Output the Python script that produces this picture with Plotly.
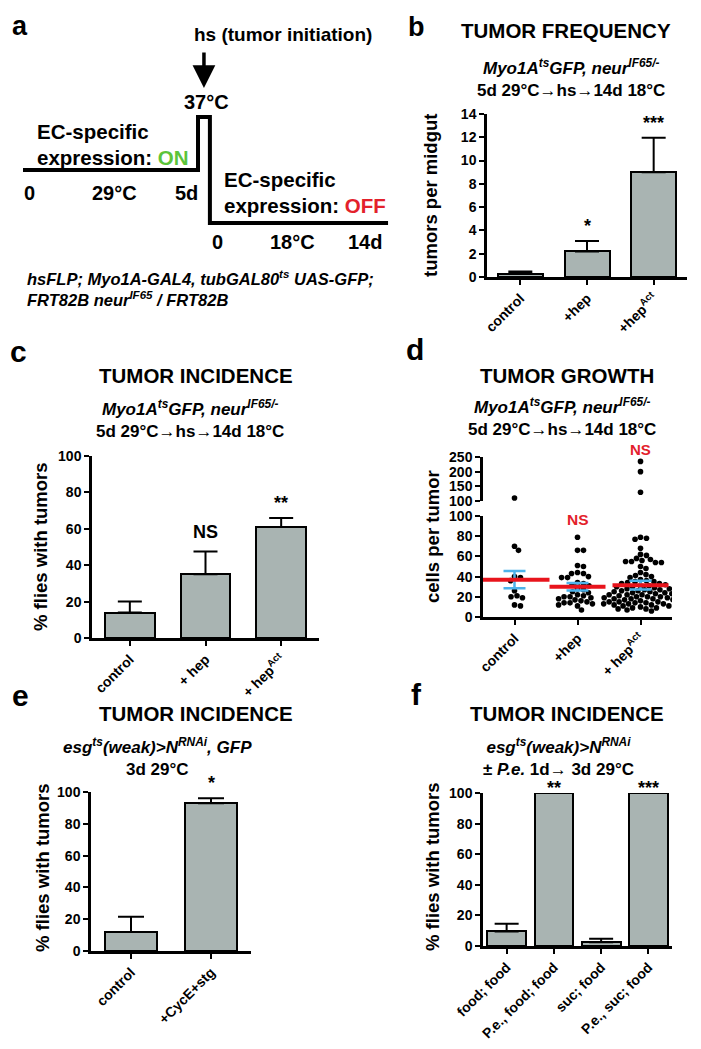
import plotly.graph_objects as go

W, H = 701, 1049
PAGE_OFFSET = 8  # browser body margin shifts the figure by this many pixels
FONT = 'Liberation Sans, Arial, sans-serif'
BAR_GRAY = '#A9B4B2'
RED = '#E3212B'
GREEN = '#5CC43A'
BLUE = '#4DB3EA'

# ---- data ----
# a: experimental timeline (schematic day units, temperature level)
timeline_x = [0, 5, 5, 5.34, 5.34, 10.43]
timeline_temp = ['29°C', '29°C', '37°C', '37°C', '18°C', '18°C']
temp_levels = ['18°C', '29°C', '37°C']

# b: tumor frequency
b_labels = ['control', '+hep', '+hep<sup>Act</sup>']
b_mean = [0.3, 2.2, 9.0]
b_sem = [0.18, 0.9, 2.95]
b_sig = ['', '*', '***']

# c: tumor incidence
c_labels = ['control', '+ hep', '+ hep<sup>Act</sup>']
c_mean = [14, 35, 61]
c_sem = [6, 12.5, 5]
c_sig = ['', 'NS', '**']

# d: tumor growth (cells per tumor)
d_labels = ['control', '+hep', '+ hep<sup>Act</sup>']
d_control = [110, 70, 66, 40, 39, 36, 26, 21, 20, 19, 12, 11]
d_hep = [79, 66, 66, 51, 50, 44, 43, 43, 40, 39, 39, 34, 33, 32, 31, 28, 27,
         25, 24, 22, 21, 20, 20, 19, 18, 17, 16, 15, 14, 14, 13, 12, 11, 7]
d_hepact = [235, 200, 130, 79, 78, 77, 68, 62, 61, 58, 57, 56, 55, 55, 54, 54,
            50, 48, 44, 42, 41, 40, 39, 37, 36, 35, 35, 34, 33, 33, 32, 31, 31,
            30, 30, 29, 28, 28, 27, 27, 26, 26, 25, 25, 24, 24, 23, 23, 22, 22,
            22, 21, 21, 20, 20, 20, 19, 19, 18, 18, 18, 17, 17, 16, 16, 15, 15,
            15, 14, 14, 13, 13, 13, 12, 12, 11, 11, 10, 10, 9, 9, 8, 8, 7, 6]
d_mean = [37, 30, 31.5]
d_sem = [8.5, 3.7, 4.3]

# e: tumor incidence, CycE+stg
e_labels = ['control', '+CycE+stg']
e_mean = [12, 93]
e_sem = [9.5, 3]
e_sig = ['', '*']

# f: tumor incidence, P.e. infection
f_labels = ['food; food', 'P.e., food; food', 'suc; food', 'P.e., suc; food']
f_mean = [9.5, 100, 2.4, 100]
f_sem = [5, 0, 2.3, 0]
f_sig = ['', '**', '', '***']


def px(x):
    return (x - PAGE_OFFSET) / W


def py(y):
    return 1 - (y - PAGE_OFFSET) / H


def swarm_offsets(values, px_per_unit, px_per_cat, dot=5.6):
    placed, offs = [], []
    for v in values:
        y = v * px_per_unit
        k = 0
        found = None
        while found is None:
            cands = [0.0] if k == 0 else [k * 0.5, -k * 0.5]
            for c in cands:
                if all((c - a) ** 2 + (y - b) ** 2 >= dot ** 2 for a, b in placed):
                    found = c
                    break
            k += 1
        placed.append((found, y))
        offs.append(found / px_per_cat)
    return offs


fig = go.Figure()

tick_font = dict(family=FONT, size=14, color='black', weight='bold')


def yax(top, bottom, rng, tickvals, anchor):
    return dict(domain=[py(bottom), py(top)], range=rng, tickvals=tickvals,
                showline=True, linewidth=2.5, linecolor='black', ticks='outside',
                ticklen=5, tickwidth=2.2, tickcolor='black', tickfont=tick_font,
                showgrid=False, zeroline=False, anchor=anchor, automargin=False)


def xax(left, right, n, labels, anchor):
    return dict(domain=[px(left), px(right)], range=[-0.5, n - 0.5],
                tickvals=list(range(n)), ticktext=labels, tickangle=-45,
                showline=True, linewidth=2.5, linecolor='black', ticks='outside',
                ticklen=5, tickwidth=2.2, tickcolor='black', tickfont=tick_font,
                showgrid=False, zeroline=False, anchor=anchor, automargin=False)


def bars(mean, sem, width, xa, ya, cap):
    fig.add_trace(go.Bar(
        x=list(range(len(mean))), y=mean, width=width, xaxis=xa, yaxis=ya,
        marker=dict(color=BAR_GRAY, line=dict(color='black', width=2)),
        error_y=dict(type='data', symmetric=False, array=sem,
                     arrayminus=[0] * len(sem), color='black', thickness=2,
                     width=cap),
        showlegend=False))


# a: timeline
fig.add_trace(go.Scatter(x=timeline_x, y=timeline_temp, mode='lines',
                         line=dict(color='black', width=4), xaxis='x6',
                         yaxis='y7', showlegend=False))

# b-f bars
bars(b_mean, b_sem, 0.675, 'x', 'y', 12)
bars(c_mean, c_sem, 0.66, 'x2', 'y2', 12)
bars(e_mean, e_sem, 0.66, 'x4', 'y5', 13)
bars(f_mean, f_sem, 0.82, 'x5', 'y6', 12)

# d scatter
groups = [d_control, d_hep, d_hepact]
for i, g in enumerate(groups):
    low = [v for v in g if v <= 100]
    high = [v for v in g if v > 100]
    offs = swarm_offsets(low, 1.01, 63.3)
    fig.add_trace(go.Scatter(x=[i + o for o in offs], y=low, mode='markers',
                             marker=dict(color='black', size=5.6),
                             xaxis='x3', yaxis='y3', showlegend=False))
    if high:
        fig.add_trace(go.Scatter(x=[i] * len(high), y=high, mode='markers',
                                 marker=dict(color='black', size=5.6),
                                 xaxis='x3', yaxis='y4', showlegend=False,
                                 cliponaxis=False))
fig.add_trace(go.Scatter(x=[0, 1, 2], y=d_mean, mode='markers',
                         marker=dict(size=1, opacity=0),
                         error_y=dict(type='data', array=d_sem, color=BLUE,
                                      thickness=2.5, width=11),
                         xaxis='x3', yaxis='y3', showlegend=False))
fig.add_trace(go.Scatter(x=[0, 1, 2], y=d_mean, mode='markers',
                         marker=dict(symbol='line-ew', size=[50, 40, 40],
                                     opacity=1,
                                     line=dict(width=4, color='#E8141C')),
                         xaxis='x3', yaxis='y3', showlegend=False))

annotations = []


def ann(text, x, y, size, color='black', xanchor='center', angle=0):
    annotations.append(dict(text=text, x=px(x), y=py(y), xref='paper',
                            yref='paper', showarrow=False, xanchor=xanchor,
                            yanchor='middle', textangle=angle,
                            font=dict(family=FONT, size=size, color=color)))


def sig(texts, ys, xa, top, bottom, rng, color='black', size=18):
    # significance marks may sit above the axis range, so place them in paper y
    for i, (t, y) in enumerate(zip(texts, ys)):
        if t:
            ypix = bottom - (y - rng[0]) / (rng[1] - rng[0]) * (bottom - top)
            annotations.append(dict(text='<b>' + t + '</b>', x=i, y=py(ypix),
                                    xref=xa, yref='paper', showarrow=False,
                                    yanchor='middle',
                                    font=dict(family=FONT, size=size, color=color)))


# panel a texts
ann('<b>a</b>', 20, 26, 27)
ann('<b>hs (tumor initiation)</b>', 283, 35, 19)
ann('<b>37°C</b>', 206, 102, 20)
ann('<b>EC-specific</b>', 35, 132, 20.5, xanchor='left')
ann('<b>expression: <span style="color:%s">ON</span></b>' % GREEN, 35, 157,
    20.5, xanchor='left')
ann('<b>EC-specific</b>', 222, 180, 20.5, xanchor='left')
ann('<b>expression: <span style="color:%s">OFF</span></b>' % RED, 222, 205,
    20.5, xanchor='left')
ann('<b>0</b>', 29, 193, 20)
ann('<b>29°C</b>', 115, 193, 20)
ann('<b>5d</b>', 186, 193, 20)
ann('<b>0</b>', 217, 242, 20)
ann('<b>18°C</b>', 292, 242, 20)
ann('<b>14d</b>', 365, 242, 20)
ann('<b><i>hsFLP; Myo1A-GAL4, tubGAL80<sup>ts</sup> UAS-GFP;</i></b>', 25, 278,
    16.5, xanchor='left')
ann('<b><i>FRT82B neur<sup>IF65</sup> / FRT82B</i></b>', 25, 299, 16.5,
    xanchor='left')
annotations.append(dict(text='', x=5.17, y=py(88), xref='x6', yref='paper',
                        showarrow=True, ax=0, ay=-37, arrowhead=2, arrowsize=1.3,
                        arrowwidth=3.5, arrowcolor='black'))

sub_myo = ('<b><i>Myo1A<sup>ts</sup>GFP, neur<sup>IF65/-</sup></i></b><br>'
           '<b>5d 29°C→hs→14d 18°C</b>')
SUB = 17
YT = 18.5

# panel b
ann('<b>b</b>', 416, 27, 27)
ann('<b>TUMOR FREQUENCY</b>', 566, 31, 20.5)
ann(sub_myo, 571, 78, SUB)
ann('<b>tumors per midgut</b>', 430, 196, YT, angle=-90)
sig(b_sig, [None, 4.4, 13.2], 'x', 114, 277, [0, 14])

# panel c
ann('<b>c</b>', 18, 352, 30)
ann('<b>TUMOR INCIDENCE</b>', 196, 375, 20.5)
ann(sub_myo, 190, 419, SUB)
ann('<b>% flies with tumors</b>', 40, 547, YT, angle=-90)
sig(c_sig, [None, 58, 74], 'x2', 456, 638, [0, 100])

# panel d
ann('<b>d</b>', 415, 349, 30)
ann('<b>TUMOR GROWTH</b>', 567, 375, 20.5)
ann(sub_myo, 562, 417.5, SUB)
ann('<b>cells per tumor</b>', 432, 537, YT, angle=-90)
sig(['', 'NS', ''], [None, 97, None], 'x3', 516, 617, [0, 100], color=RED,
    size=15.5)
sig(['', '', 'NS'], [None, None, 276], 'x3', 457, 501, [100, 250], color=RED,
    size=15)

# panel e
ann('<b>e</b>', 20, 696, 30)
ann('<b>TUMOR INCIDENCE</b>', 196, 713, 20.5)
ann('<b><i>esg<sup>ts</sup>(weak)&gt;N<sup>RNAi</sup>, GFP</i></b><br>'
    '<b>3d 29°C</b>', 157, 757, SUB)
ann('<b>% flies with tumors</b>', 42, 868, YT, angle=-90)
sig(e_sig, [None, 105.5], 'x4', 792, 951, [0, 100])

# panel f
ann('<b>f</b>', 417, 694, 30)
ann('<b>TUMOR INCIDENCE</b>', 567, 713, 20.5)
ann('<b><i>esg<sup>ts</sup>(weak)&gt;N<sup>RNAi</sup></i></b><br>'
    '<b>± <i>P.e.</i> 1d→ 3d 29°C</b>', 558.5, 757, SUB)
ann('<b>% flies with tumors</b>', 432, 867, YT, angle=-90)
sig(f_sig, [None, 103.5, None, 103.5], 'x5', 793, 946, [0, 100])

fig.update_layout(
    template='none',
    width=W, height=H, margin=dict(l=0, r=0, t=0, b=0, autoexpand=False),
    paper_bgcolor='white', plot_bgcolor='white',
    font=dict(family=FONT, color='black'),
    bargap=0, showlegend=False, annotations=annotations,
    xaxis=xax(487, 687, 3, b_labels, 'y'),
    yaxis=yax(114, 277, [0, 14], list(range(0, 15, 2)), 'x'),
    xaxis2=xax(92, 319, 3, c_labels, 'y2'),
    yaxis2=yax(456, 638, [0, 100], list(range(0, 101, 20)), 'x2'),
    xaxis3=xax(483, 672, 3, d_labels, 'y3'),
    yaxis3=yax(516, 617, [0, 100], list(range(0, 101, 20)), 'x3'),
    yaxis4=yax(457, 501, [100, 250], [100, 150, 200, 250], 'x3'),
    xaxis4=xax(91, 251, 2, e_labels, 'y5'),
    yaxis5=yax(792, 951, [0, 100], list(range(0, 101, 20)), 'x4'),
    xaxis5=xax(483, 672, 4, f_labels, 'y6'),
    yaxis6=yax(793, 946, [0, 100], list(range(0, 101, 20)), 'x5'),
    xaxis6=dict(domain=[px(PAGE_OFFSET), px(400)],
                range=[-(23 - PAGE_OFFSET) / 35, 377 / 35], visible=False,
                anchor='y7', automargin=False),
    yaxis7=dict(domain=[py(260), py(100)], type='category',
                categoryorder='array', categoryarray=temp_levels,
                range=[-37 / 53, 123 / 53], visible=False, anchor='x6',
                automargin=False),
)

fig.write_html('out.html')
